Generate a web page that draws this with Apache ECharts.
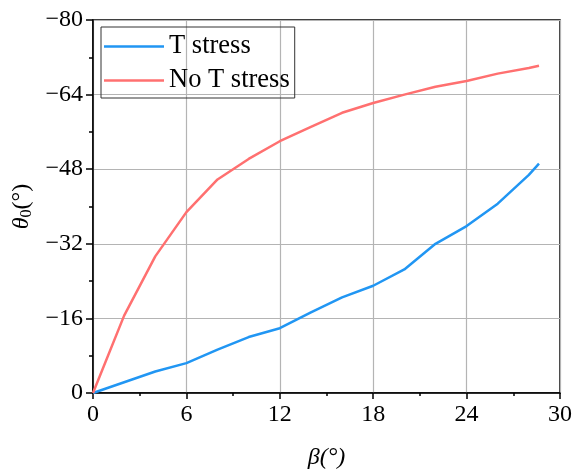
<!DOCTYPE html>
<html>
<head>
<meta charset="utf-8">
<script src="https://cdn.jsdelivr.net/npm/echarts@6/dist/echarts.min.js"></script>
<style>
html,body{margin:0;padding:0;background:#fff;}
#main{width:572px;height:470px;}
</style>
</head>
<body>
<div id="main"></div>
<script>
// beta (deg)
var beta = [0, 2, 4, 6, 8, 10, 12, 14, 16, 18, 20, 22, 24, 26, 28, 28.65];
// theta0 with T stress
var tStress = [0, -2.3, -4.6, -6.4, -9.3, -12.0, -13.9, -17.3, -20.5, -23.0, -26.5, -32.0, -35.8, -40.6, -46.8, -49.2];
// theta0 without T stress
var noTStress = [0, -16.6, -29.3, -38.8, -45.8, -50.2, -54.0, -57.1, -60.1, -62.2, -64.0, -65.7, -66.9, -68.5, -69.7, -70.2];

var legendNames = ['T stress', 'No T stress'];
var lineColors = ['#2196f3', '#ff7070'];

function pairs(xs, ys) {
	var out = [];
	for (var i = 0; i < xs.length; i++) {
		out.push([xs[i], ys[i]]);
	}
	return out;
}

var font = '"Liberation Serif", "Times New Roman", serif';

var option = {
	animation: false,
	textStyle: {fontFamily: font},
	grid: {
		left: 93,
		right: 12,
		top: 20,
		bottom: 77,
		show: true,
		borderColor: '#000',
		borderWidth: 1.5,
		containLabel: false,
		outerBoundsMode: 'none'
	},
	legend: {
		data: legendNames,
		orient: 'vertical',
		left: 101,
		top: 27,
		padding: [6, 5, 4, 3],
		itemGap: 7,
		itemWidth: 60,
		itemHeight: 26,
		borderColor: '#333',
		borderWidth: 1,
		borderRadius: 0,
		textStyle: {fontFamily: font, fontSize: 26.5, color: '#000'},
		icon: 'path://M0,0 L60,0 L60,2.5 L0,2.5 Z'
	},
	xAxis: {
		type: 'value',
		min: 0,
		max: 30,
		interval: 6,
		name: 'β(°)',
		nameLocation: 'middle',
		nameGap: 53,
		nameTextStyle: {fontFamily: font, fontSize: 24, fontStyle: 'italic', color: '#000'},
		axisLine: {show: true, lineStyle: {color: '#000', width: 1.5}},
		axisTick: {show: true, length: 6, lineStyle: {color: '#000', width: 1.5}},
		minorTick: {show: true, splitNumber: 2, length: 3, lineStyle: {color: '#000', width: 1.5}},
		axisLabel: {fontFamily: font, fontSize: 24, color: '#000', margin: 10},
		splitLine: {show: true, lineStyle: {color: '#b4b4b4', width: 1.2}}
	},
	yAxis: {
		type: 'value',
		inverse: true,
		min: -80,
		max: 0,
		interval: 16,
		name: '{i|θ}{s|0}{n|(°)}',
		nameLocation: 'middle',
		nameGap: 52,
		nameRotate: 90,
		nameTextStyle: {
			color: '#000',
			rich: {
				i: {fontFamily: font, fontSize: 24, fontStyle: 'italic', color: '#000'},
				s: {fontFamily: font, fontSize: 16, color: '#000', verticalAlign: 'bottom', padding: [10, 0, 0, 0]},
				n: {fontFamily: font, fontSize: 24, color: '#000'}
			}
		},
		axisLine: {show: true, lineStyle: {color: '#000', width: 1.5}},
		axisTick: {show: true, length: 7, lineStyle: {color: '#000', width: 1.5}},
		minorTick: {show: true, splitNumber: 2, length: 4, lineStyle: {color: '#000', width: 1.5}},
		axisLabel: {
			fontFamily: font, fontSize: 24, color: '#000', margin: 10,
			formatter: function (v) { return String(v).replace('-', '\u2212'); }
		},
		splitLine: {show: true, lineStyle: {color: '#b4b4b4', width: 1.2}}
	},
	series: function () {
		var data = [tStress, noTStress];
		var serie = [];
		for (var i = 0; i < legendNames.length; i++) {
			serie.push({
				name: legendNames[i],
				type: 'line',
				data: pairs(beta, data[i]),
				showSymbol: false,
				symbol: 'none',
				itemStyle: {color: lineColors[i]},
				lineStyle: {color: lineColors[i], width: 2.5}
			});
		}
		return serie;
	}()
};

var myChart = echarts.init(document.getElementById('main'));
myChart.setOption(option);
</script>
</body>
</html>
